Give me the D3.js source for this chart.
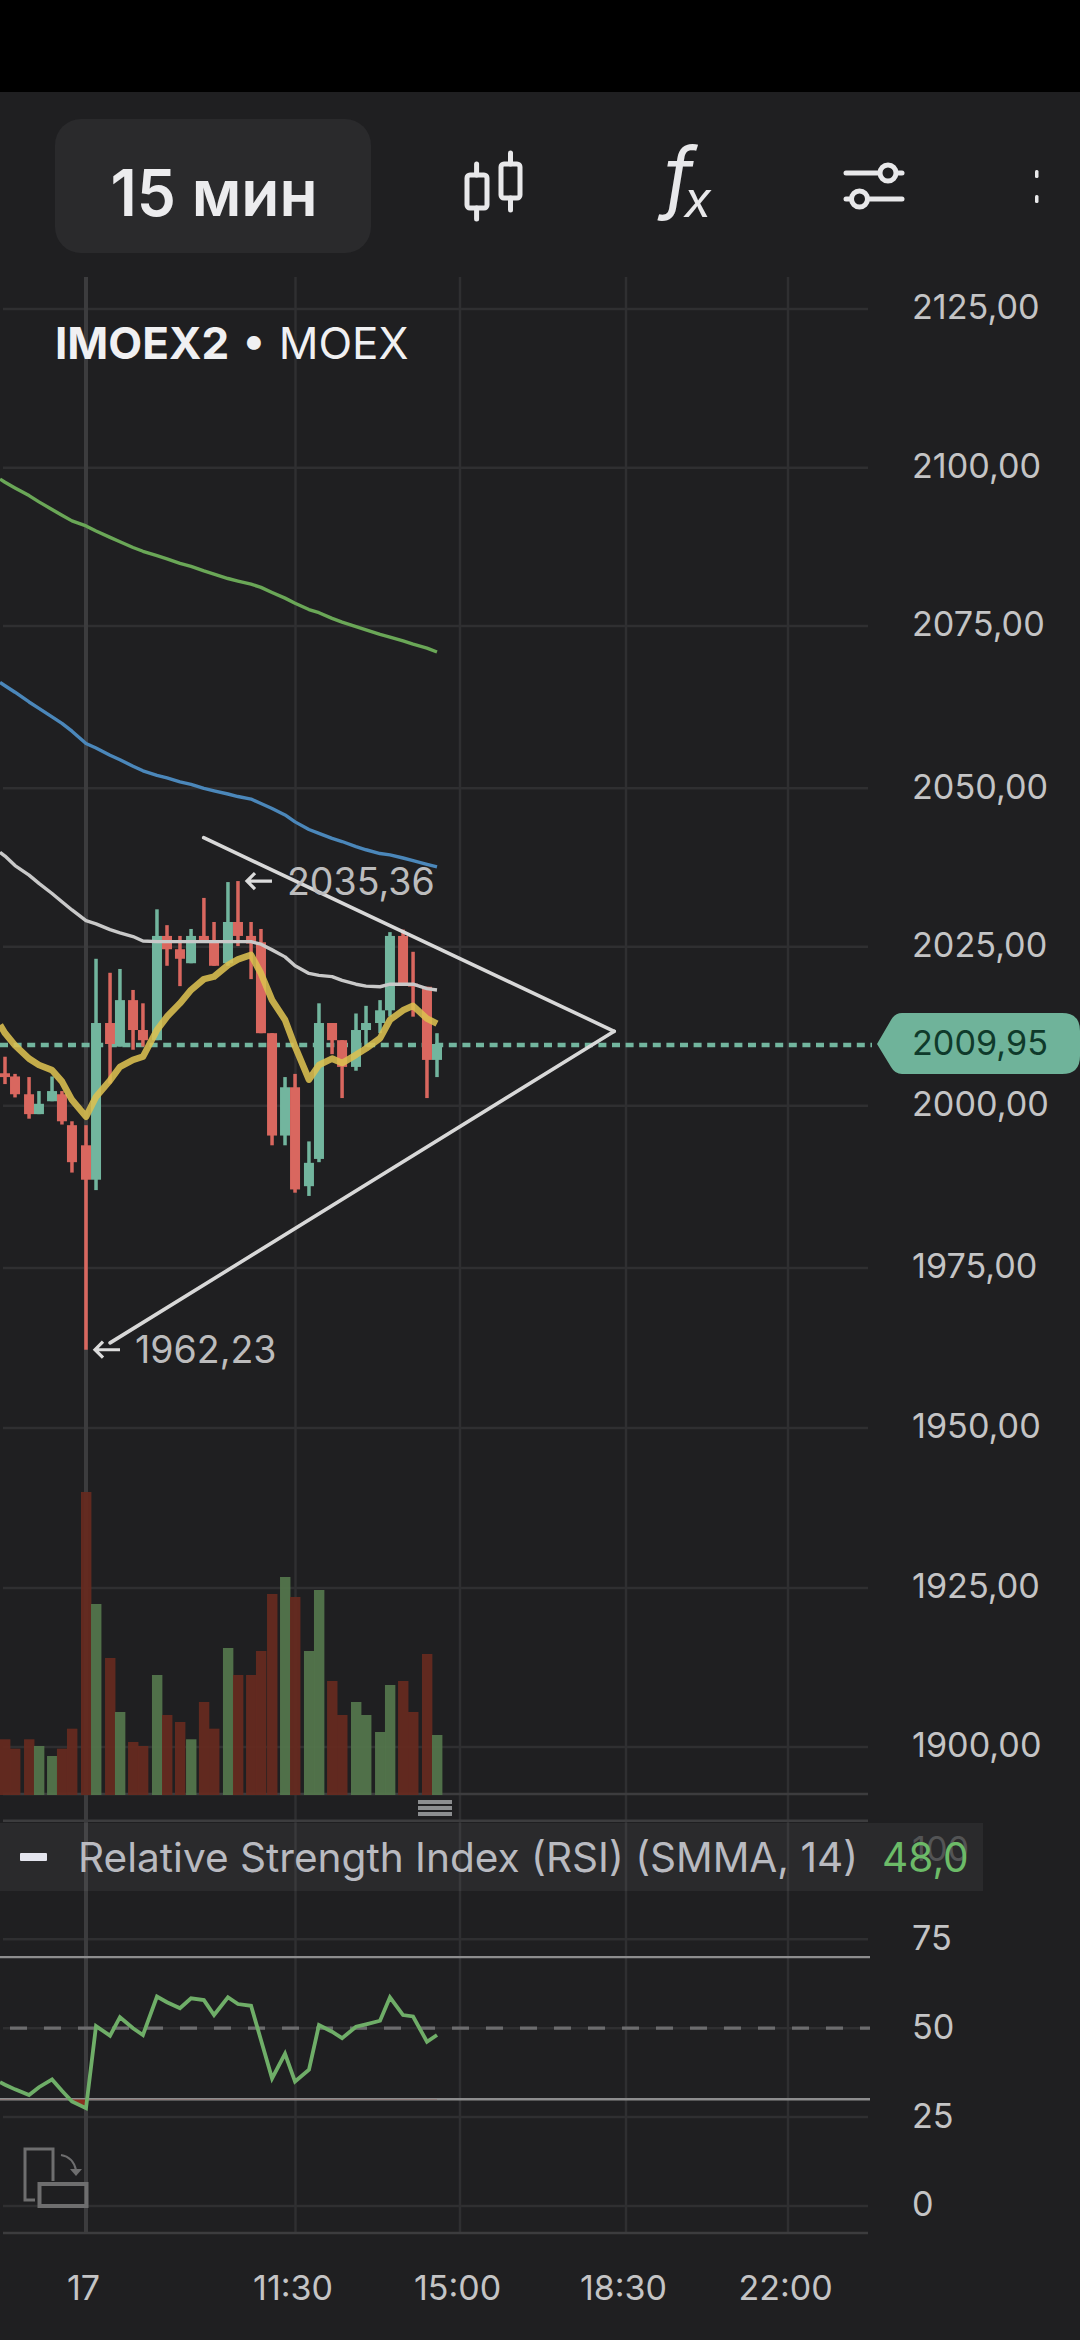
<!DOCTYPE html>
<html><head><meta charset="utf-8">
<script src="https://cdn.jsdelivr.net/npm/d3@7/dist/d3.min.js"></script>
<style>
html,body{margin:0;padding:0;background:#1f1f21;overflow:hidden}
svg{display:block}
text{font-family:Inter,"Noto Sans",sans-serif}
</style></head><body><svg id="c" width="1080" height="2340"></svg>
<script>
// ---------- data ----------
const candleSlots=[-6.87,-6.02,-4.83,-3.99,-2.88,-2.04,-1.19,0,0.85,2.04,2.88,3.99,4.83,6.02,6.87,7.97,8.91,10.0,10.86,12.04,12.89,14,14.84,15.78,16.88,17.73,18.91,19.76,20.87,21.72,22.9,23.75,24.94,25.78,26.89,27.74,28.92,29.77];
const opens =[2005.1,2004.6,2001.8,1998.7,2000.7,2001.8,1997.0,1993.9,1988.6,2013.0,2009.3,2016.6,2011.9,2010.3,2026.7,2024.6,2022.4,2026.7,2026.0,2022.4,2028.9,2026.7,2025.7,2011.4,1995.4,2002.9,1987.6,1991.8,2013.0,2010.3,2006.1,2011.9,2013.0,2015.0,2026.7,2019.2,2018.7,2007.2];
const highs =[2007.7,2005.0,2004.5,2002.3,2004.6,2002.3,1997.6,1997.0,2023.1,2020.9,2021.5,2018.2,2016.1,2030.9,2028.4,2026.7,2027.8,2032.7,2028.9,2035.2,2035.36,2028.9,2027.8,2011.4,2004.5,2005.0,1994.5,2016.1,2013.0,2010.3,2014.5,2015.7,2016.6,2027.3,2027.7,2024.2,2018.7,2011.4];
const lows  =[2003.4,2001.3,1998.0,1998.7,2000.7,1997.1,1989.7,1962.23,1987.0,2003.5,2009.3,2008.8,2009.3,2010.3,2022.0,2018.8,2022.4,2026.0,2022.0,2022.0,2025.1,2019.9,2011.4,1993.9,1993.9,1986.6,1986.1,1991.3,2008.1,2001.2,2005.5,2009.3,2011.4,2014.0,2019.2,2014.0,2001.2,2004.5];
const closes=[2004.5,2001.8,1998.7,2000.3,2002.3,1997.6,1991.3,1988.6,2013.0,2009.7,2016.6,2011.9,2010.3,2026.7,2024.6,2023.1,2026.7,2026.0,2022.0,2028.9,2026.7,2025.5,2011.4,1995.4,2002.9,1987.1,1991.2,2013.0,2010.3,2006.1,2011.9,2013.0,2015.0,2026.7,2019.2,2019.0,2007.2,2009.7];
const volumes=[55.7,46.3,55.7,49,39,46.3,66.3,303,191,137,83,53,49,120,80,73,55.7,93,66.3,147,120,120,144,201,218,198,144,205,114,80,93,80,63,110,114,83,141,60];
const lineSlots=[-7.29].concat(candleSlots);
const maYellow=[2012.7,2011.4,2009.5,2007.4,2006.4,2005.6,2003.8,2000.9,1998.3,2001.4,2004.0,2006.1,2007.2,2007.7,2011.9,2014.0,2016.1,2018.2,2019.9,2020.3,2022.1,2023.0,2023.7,2020.8,2016.6,2013.5,2009.3,2004.1,2006.4,2007.4,2006.7,2008.0,2009.0,2010.6,2013.5,2015.0,2015.7,2013.7,2012.9];
const maWhite=[2039.9,2039.3,2037.8,2036.3,2035.0,2033.4,2032.1,2030.8,2029.1,2028.6,2027.7,2027.2,2026.6,2025.9,2025.8,2025.8,2025.8,2025.8,2025.8,2025.8,2025.8,2025.8,2025.8,2025.4,2024.5,2023.4,2022.0,2020.8,2020.5,2020.3,2019.7,2019.1,2018.8,2018.7,2019.1,2019.1,2019.1,2018.4,2018.2];
const maBlue=[2066.3,2065.8,2064.8,2063.3,2062.3,2061.0,2060.0,2058.8,2056.9,2056.2,2055.1,2054.4,2053.4,2052.7,2052.0,2051.6,2051.0,2050.6,2050.0,2049.6,2049.1,2048.7,2048.3,2047.6,2046.8,2045.8,2044.7,2043.5,2042.9,2042.1,2041.6,2040.8,2040.3,2039.7,2039.5,2039.0,2038.6,2038.0,2037.6];
const maGreen=[2098.2,2097.7,2096.8,2095.6,2094.6,2093.4,2092.5,2091.6,2090.8,2090.0,2089.0,2088.3,2087.4,2086.8,2086.1,2085.6,2084.9,2084.4,2083.7,2083.2,2082.5,2082.1,2081.6,2081.1,2080.3,2079.4,2078.6,2077.6,2077.1,2076.2,2075.6,2074.9,2074.4,2073.7,2073.3,2072.7,2072.2,2071.6,2071.0];
const rsiValues=[34.8,34.1,32.8,31.2,33.4,35.6,32.4,29.4,27.5,50.6,47.9,53.1,50.0,48.1,58.9,57.3,55.6,58.4,57.9,53.7,58.7,56.8,56.3,46.7,35.9,42.8,35.0,38.3,50.9,49.0,47.2,50.4,51.1,52.1,58.7,53.7,53.3,46.2,48.1];
const priceTicks=[1900,1925,1950,1975,2000,2025,2050,2075,2100,2125];
const rsiTicks=[100,75,50,25,0];
const rsiBands=[70,30];
const timeTickSlots=[0,17.77,31.72,45.8,59.54];
const timeTickLabels=["17","11:30","15:00","18:30","22:00"];
const trendUpper=[[9.98,2042.2],[44.8,2011.7]];
const trendLower=[[2.04,1963.3],[44.8,2011.7]];
const lastPrice=2009.95, priceLineLevel=2009.55, rsiLast="48,0";
const highMark=2035.36, lowMark=1962.23;

// ---------- scales ----------
const x=d3.scaleLinear().domain([0,59.54]).range([86,788]);
const y=d3.scaleLinear().domain(priceTicks).range([1747,1588,1428,1268,1105.7,946.7,788.3,626,467.7,309]);
const yVol=d3.scaleLinear().domain([0,100]).range([1795,1695]);
const yRsi=d3.scaleLinear().domain([0,75]).range([2206,1939.3]);
const fmt=d=>d.toFixed(2).replace('.',',');

const C={bg:'#1f1f21',grid:'#2f2f31',grid2:'#3c3c3e',up:'#72b59e',down:'#d9675f',label:'#c4c4c5'};
const svg=d3.select('#c');
svg.append('rect').attr('width',1080).attr('height',2340).attr('fill',C.bg);
svg.append('rect').attr('width',1080).attr('height',92).attr('fill','#000');

// toolbar
svg.append('rect').attr('x',55).attr('y',119).attr('width',316).attr('height',134).attr('rx',26).attr('fill','#2a2a2c');
svg.append('text').attr('x',214).attr('y',216).attr('text-anchor','middle').attr('font-size',64).attr('font-weight',600).attr('fill','#ececee').attr('textLength',207).attr('lengthAdjust','spacingAndGlyphs').text('15 мин');
const ic=svg.append('g').attr('stroke','#e8e8ea').attr('stroke-width',5).attr('fill','none').attr('stroke-linecap','round');
[[476.6,164,219,466,488,175,208],[510.5,153,210,500,521,164,198]].forEach(a=>{
  ic.append('line').attr('x1',a[0]).attr('x2',a[0]).attr('y1',a[1]).attr('y2',a[5]);
  ic.append('line').attr('x1',a[0]).attr('x2',a[0]).attr('y1',a[6]).attr('y2',a[2]);
  ic.append('rect').attr('x',a[3]+1).attr('y',a[5]).attr('width',a[4]-a[3]-2).attr('height',a[6]-a[5]).attr('rx',3);
});
svg.append('text').attr('x',664).attr('y',204).attr('font-family','Liberation Serif').attr('font-style','italic').attr('font-size',78).attr('fill','#e8e8ea').text('f');
svg.append('text').attr('x',684).attr('y',217).attr('font-family','Liberation Serif').attr('font-style','italic').attr('font-size',50).attr('fill','#e8e8ea').text('x');
[[173,888],[199,859.5]].forEach(a=>{
  ic.append('line').attr('x1',846).attr('x2',902).attr('y1',a[0]).attr('y2',a[0]);
  ic.append('circle').attr('cx',a[1]).attr('cy',a[0]).attr('r',8).attr('fill',C.bg);
});
[174,199].forEach(v=>svg.append('rect').attr('x',1035).attr('y',v-4).attr('width',3.5).attr('height',8).attr('rx',1.5).attr('fill','#e8e8ea'));

// grid
const gGrid=svg.append('g');
gGrid.selectAll('.h').data(priceTicks).join('line').attr('x1',3).attr('x2',868).attr('y1',d=>y(d)).attr('y2',d=>y(d)).attr('stroke',C.grid).attr('stroke-width',2.5);
gGrid.selectAll('.r').data(rsiTicks.slice(1)).join('line').attr('x1',3).attr('x2',868).attr('y1',d=>yRsi(d)).attr('y2',d=>yRsi(d)).attr('stroke',C.grid).attr('stroke-width',2.5);
gGrid.selectAll('.v').data(timeTickSlots).join('line').attr('x1',d=>x(d)).attr('x2',d=>x(d)).attr('y1',277).attr('y2',2233).attr('stroke',(d,i)=>i?C.grid:C.grid2).attr('stroke-width',(d,i)=>i?2.5:4);
[1794,1820.7,2233].forEach(v=>gGrid.append('line').attr('x1',3).attr('x2',868).attr('y1',v).attr('y2',v).attr('stroke',C.grid2).attr('stroke-width',2.5));

// title
const title=svg.append('text').attr('x',55).attr('y',359).attr('font-size',44).attr('fill','#f0f0f2');
title.append('tspan').attr('font-weight',700).text('IMOEX2');
title.append('tspan').attr('font-weight',400).text(' • MOEX');

// volume
const idx=d3.range(candleSlots.length);
const isUp=i=>closes[i]>=opens[i];
svg.append('g').selectAll('rect').data(idx).join('rect')
 .attr('x',i=>x(candleSlots[i])-5).attr('width',10.4)
 .attr('y',i=>yVol(volumes[i])).attr('height',i=>yVol(0)-yVol(volumes[i]))
 .attr('fill',i=>isUp(i)?'#53754c':'#652a20').attr('opacity',.95);
svg.append('g').selectAll('rect').data([1800,1806,1812]).join('rect').attr('x',418).attr('y',d=>d).attr('width',34).attr('height',4).attr('fill','#8c8e90');

// last price line
svg.append('line').attr('x1',0).attr('x2',872).attr('y1',y(priceLineLevel)).attr('y2',y(priceLineLevel)).attr('stroke',C.up).attr('stroke-width',4.4).attr('stroke-dasharray','8 5.6');

// candles
const gC=svg.append('g');
gC.selectAll('.w').data(idx).join('rect').attr('x',i=>x(candleSlots[i])-1.75).attr('width',3.5)
 .attr('y',i=>y(highs[i])).attr('height',i=>y(lows[i])-y(highs[i])).attr('fill',i=>isUp(i)?C.up:C.down);
gC.selectAll('.b').data(idx).join('rect').attr('x',i=>x(candleSlots[i])-5).attr('width',10)
 .attr('y',i=>y(Math.max(opens[i],closes[i]))).attr('height',i=>Math.max(3,Math.abs(y(opens[i])-y(closes[i])))).attr('fill',i=>isUp(i)?C.up:C.down);

// moving averages
const line=d3.line().x((d,i)=>x(lineSlots[i])).y(d=>y(d));
[[maGreen,'#6aa757',3.4],[maBlue,'#4b87ba',3.4],[maWhite,'#c9c9c9',3.4],[maYellow,'#dcc050',6.6]].forEach(a=>{
 svg.append('path').attr('d',line(a[0])).attr('fill','none').attr('stroke',a[1]).attr('stroke-width',a[2]).attr('stroke-linejoin','round').attr('opacity',a[2]>4?.88:1);
});

// trend lines
const tl=d3.line().x(d=>x(d[0])).y(d=>y(d[1]));
[trendUpper,trendLower].forEach(t=>svg.append('path').attr('d',tl(t)).attr('fill','none').attr('stroke','#d8d8d8').attr('stroke-width',3.6).attr('stroke-linecap','round'));

// high/low marks
function mark(price,slot,label){
 const x0=x(slot)+7, yy=y(price);
 svg.append('path').attr('d',`M${x0+27},${yy}H${x0+2}M${x0+10},${yy-8}L${x0+2},${yy}L${x0+10},${yy+8}`).attr('fill','none').attr('stroke','#dcdcdc').attr('stroke-width',3.2);
 svg.append('text').attr('x',x0+42).attr('y',yy).attr('dy','.36em').attr('font-size',37.5).attr('fill','#bcbcbd').text(fmt(label));
}
mark(highMark,candleSlots[20],highMark);
mark(lowMark,candleSlots[7],lowMark);

// price axis
const ax=svg.append('g').attr('transform','translate(912,-1)').call(d3.axisRight(y).tickValues(priceTicks).tickFormat(fmt).tickSize(0).tickPadding(0));
ax.select('.domain').remove();
ax.selectAll('text').attr('font-size',34.2).attr('fill',C.label).attr('font-family','Inter');

// last price badge
svg.append('path').attr('d','M902,1013H1062Q1080,1013 1080,1031V1056Q1080,1074 1062,1074H902Q895,1074 891,1067L877,1044L891,1020Q895,1013 902,1013Z').attr('fill','#6fb39a');
svg.append('text').attr('x',912).attr('y',1055).attr('font-size',34.2).attr('fill','#0f3a2b').text(fmt(lastPrice));

// RSI pane
const ghost=svg.append('g').attr('transform','translate(912,-1)').call(d3.axisRight(yRsi).tickValues(rsiTicks).tickFormat(d=>d).tickSize(0).tickPadding(0));
ghost.select('.domain').remove();
ghost.selectAll('text').attr('font-size',34.2).attr('fill',C.label).attr('font-family','Inter');
ghost.selectAll('.tick').filter(d=>d===100).select('text').attr('fill','#4a4b4c');

svg.append('rect').attr('x',0).attr('y',1823).attr('width',983).attr('height',68).attr('fill','#fff').attr('opacity',.05);
svg.append('rect').attr('x',20).attr('y',1853).attr('width',27).attr('height',8).attr('rx',1).attr('fill','#e4e5ee');
svg.append('text').attr('x',78).attr('y',1872).attr('font-size',40.6).attr('fill','#b9bac0').text('Relative Strength Index (RSI) (SMMA, 14)');
svg.append('text').attr('x',882).attr('y',1872).attr('font-size',40.6).attr('fill','#6cbb68').text(rsiLast);

rsiBands.forEach(v=>svg.append('line').attr('x1',0).attr('x2',870).attr('y1',yRsi(v)).attr('y2',yRsi(v)).attr('stroke','#8d8d8e').attr('stroke-width',2.4));
svg.append('line').attr('x1',10).attr('x2',870).attr('y1',yRsi(50)).attr('y2',yRsi(50)).attr('stroke','#6c6c6e').attr('stroke-width',3.2).attr('stroke-dasharray','17 17');

svg.append('clipPath').attr('id','os').append('rect').attr('x',0).attr('y',yRsi(30)).attr('width',870).attr('height',80);
svg.append('path').attr('clip-path','url(#os)').attr('fill','#8a2f20')
 .attr('d',d3.area().x((d,i)=>x(lineSlots[i])).y0(yRsi(30)).y1(d=>yRsi(d))(rsiValues));
svg.append('path').attr('fill','none').attr('stroke','#6fae68').attr('stroke-width',3.8).attr('stroke-linejoin','miter')
 .attr('d',d3.line().x((d,i)=>x(lineSlots[i])).y(d=>yRsi(d))(rsiValues));

// rotate icon
const ri=svg.append('g').attr('fill','none').attr('stroke','#6e6e6f');
ri.append('path').attr('d','M53,2181V2149H25V2200H35').attr('stroke-width',3);
ri.append('rect').attr('x',39.5).attr('y',2184).attr('width',47).attr('height',22).attr('stroke-width',4);
ri.append('path').attr('d','M61,2155Q73,2157 76,2170').attr('stroke-width',2);
svg.append('path').attr('d','M70,2169H82L76,2176Z').attr('fill','#6e6e6f');

// time axis
const tax=svg.append('g').attr('transform','translate(-3,2276)').call(d3.axisBottom(x).tickValues(timeTickSlots).tickFormat((d,i)=>timeTickLabels[i]).tickSize(0).tickPadding(0));
tax.select('.domain').remove();
tax.selectAll('text').attr('font-size',34).attr('fill',C.label).attr('font-family','Inter').attr('dy','.71em');
</script></body></html>
